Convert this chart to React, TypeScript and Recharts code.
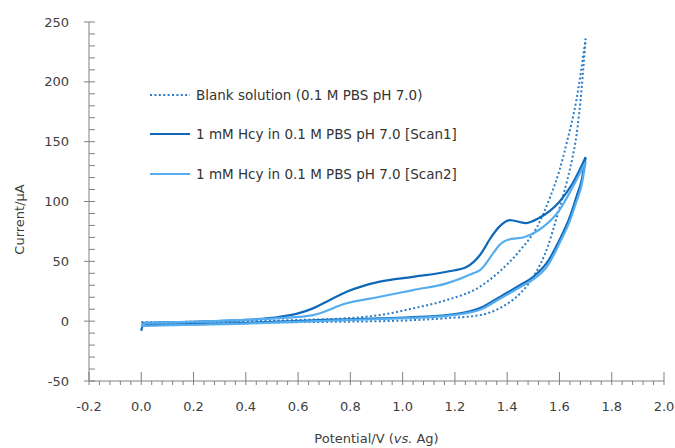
import React from "react";
import { LineChart, Line, XAxis, YAxis, Legend, Label } from "recharts";

// potential (V) / current (µA)
// forward (anodic) branches
const blankFwdV = [0, 0.2, 0.4, 0.6, 0.786, 0.913, 1.04, 1.169, 1.296, 1.37, 1.45, 1.515, 1.565, 1.6, 1.63, 1.665, 1.7];
const blankFwdI = [-1, -0.5, 0, 1, 2.4, 5.1, 10.7, 17.7, 28.8, 41.3, 59.4, 79, 104, 126, 151, 185, 236];
const scan1FwdV = [0, 0.01, 0.1, 0.2, 0.4, 0.53, 0.6, 0.657, 0.72, 0.786, 0.85, 0.913, 1.04, 1.169, 1.246,
  1.296, 1.34, 1.37, 1.41, 1.47, 1.52, 1.6, 1.65, 1.7];
const scan1FwdI = [-8, -1.5, -1, -0.5, 1, 3.7, 6.5, 10.7, 17.5, 24.6, 29.5, 33, 37, 41.3, 45.5,
  55.3, 70.6, 79, 84.5, 82, 86, 99.8, 115, 137];
const scan2FwdV = [0, 0.02, 0.2, 0.4, 0.53, 0.657, 0.786, 0.913, 1.04, 1.169, 1.27, 1.296, 1.346, 1.37, 1.4,
  1.47, 1.52, 1.6, 1.665, 1.7];
const scan2FwdI = [-4, -1.5, -0.5, 1, 2.5, 5.1, 15, 20.4, 26, 31.6, 40, 42.7, 56.6, 63.6, 67.8,
  70.6, 76, 92.8, 118, 133];

// reverse (return) branches, listed from 0 V up to the switching potential
const blankRevV = [0, 0.2, 0.4, 0.6, 0.8, 1.0, 1.169, 1.296, 1.37, 1.45, 1.5, 1.555, 1.59, 1.63, 1.65, 1.665, 1.685, 1.7];
const blankRevI = [-3, -2.5, -1.5, -0.8, -0.4, 0.5, 2.5, 5.1, 10.7, 23.3, 37, 62.2, 87, 118, 137, 155, 195, 236];
const scan1RevV = [0, 0.2, 0.4, 0.53, 0.7, 0.913, 1.169, 1.296, 1.37, 1.45, 1.5, 1.555, 1.6, 1.64, 1.665, 1.685, 1.7];
const scan1RevI = [-3.5, -2.5, -1.5, -0.4, 1, 2.4, 5.1, 11, 20, 30.2, 37.1, 49.7, 67.8, 87.3, 104, 118, 137];
const scan2RevV = [0, 0.2, 0.4, 0.53, 0.7, 0.913, 1.169, 1.296, 1.37, 1.45, 1.5, 1.555, 1.6, 1.64, 1.665, 1.685, 1.7];
const scan2RevI = [-4, -3, -2, -1, 0.3, 1.8, 4.5, 9.5, 18.5, 28.5, 35, 46.5, 65, 84, 100, 114, 133];

const xTicks = Array.from({ length: 56 }, (_, i) => Math.round(-20 + i * 4) / 100);
const yTicks = Array.from({ length: 31 }, (_, i) => -50 + i * 10);

const series = [
  { name: "Blank solution (0.1 M PBS pH 7.0)", color: "#2a7cc7", dash: "2 2.4",
    fwd: [blankFwdV, blankFwdI], rev: [blankRevV, blankRevI] },
  { name: "1 mM Hcy in 0.1 M PBS pH 7.0 [Scan1]", color: "#0f68b8", dash: undefined,
    fwd: [scan1FwdV, scan1FwdI], rev: [scan1RevV, scan1RevI] },
  { name: "1 mM Hcy in 0.1 M PBS pH 7.0 [Scan2]", color: "#55adef", dash: undefined,
    fwd: [scan2FwdV, scan2FwdI], rev: [scan2RevV, scan2RevI] },
];

const AXIS = "#808080";
const TEXT = "#404040";
const FONT = "'DejaVu Sans', Verdana, sans-serif";

const toPoints = ([v, i]: number[][]) => v.map((x, k) => ({ x, y: i[k] }));

const XTick = ({ x, y, payload }: any) => {
  const major = Math.round(payload.value * 100) % 20 === 0;
  return (
    <g>
      <line x1={x} x2={x} y1={major ? y - 9 : y} y2={y + 4} stroke={AXIS} />
      {major && (
        <text x={x} y={y + 30} textAnchor="middle" fontSize={13} fill={TEXT} fontFamily={FONT}>
          {payload.value.toFixed(1)}
        </text>
      )}
    </g>
  );
};

const YTick = ({ x, y, payload }: any) => {
  const major = payload.value % 50 === 0;
  return (
    <g>
      <line x1={major ? x - 5 : x} x2={x + 6} y1={y} y2={y} stroke={AXIS} />
      {major && (
        <text x={x - 20} y={y} dy="0.35em" textAnchor="end" fontSize={13} fill={TEXT} fontFamily={FONT}>
          {payload.value}
        </text>
      )}
    </g>
  );
};

const LegendBox = () => (
  <div style={{ fontFamily: FONT, fontSize: 13.5, color: "#333" }}>
    {series.map((s) => (
      <div key={s.name} style={{ display: "flex", alignItems: "center", height: 39.5 }}>
        <svg width={46} height={6}>
          <line x1={0} x2={40} y1={3} y2={3} stroke={s.color} strokeWidth={2} strokeDasharray={s.dash} />
        </svg>
        <span>{s.name}</span>
      </div>
    ))}
  </div>
);

export default function App() {
  return (
    <div style={{ position: "absolute", left: 0, top: 0, background: "#fff" }}>
      <LineChart width={675} height={448} margin={{ top: 22, right: 11, left: 0, bottom: 0 }}>
        <XAxis
          dataKey="x"
          type="number"
          domain={[-0.2, 2.0]}
          ticks={xTicks}
          interval={0}
          height={67}
          tickSize={0}
          tickMargin={0}
          tick={<XTick />}
          stroke={AXIS}
        >
          <Label
            content={({ viewBox }: any) => (
              <text
                x={viewBox.x + viewBox.width / 2}
                y={443}
                textAnchor="middle"
                fontSize={13}
                fill={TEXT}
                fontFamily={FONT}
              >
                Potential/V (<tspan fontStyle="italic">vs.</tspan> Ag)
              </text>
            )}
          />
        </XAxis>
        <YAxis
          type="number"
          domain={[-50, 250]}
          ticks={yTicks}
          interval={0}
          width={89}
          tickSize={0}
          tickMargin={0}
          tick={<YTick />}
          stroke={AXIS}
        >
          <Label
            content={({ viewBox }: any) => (
              <text
                x={19}
                y={viewBox.y + viewBox.height / 2 + 18}
                textAnchor="middle"
                dominantBaseline="central"
                fontSize={13}
                fill={TEXT}
                fontFamily={FONT}
                transform={`rotate(-90, 19, ${viewBox.y + viewBox.height / 2 + 18})`}
              >
                Current/μA
              </text>
            )}
          />
        </YAxis>
        <Legend
          layout="horizontal"
          verticalAlign="middle"
          content={<LegendBox />}
          wrapperStyle={{ left: 150, top: 75, width: "auto" }}
        />
        {series.flatMap((s) =>
          [s.fwd, s.rev].map((branch, k) => (
            <Line
              key={`${s.name}-${k}`}
              name={s.name}
              data={toPoints(branch)}
              dataKey="y"
              type="monotone"
              stroke={s.color}
              strokeWidth={s.dash ? 2 : 2.2}
              strokeDasharray={s.dash}
              dot={false}
              activeDot={false}
              isAnimationActive={false}
            />
          ))
        )}
      </LineChart>
    </div>
  );
}
